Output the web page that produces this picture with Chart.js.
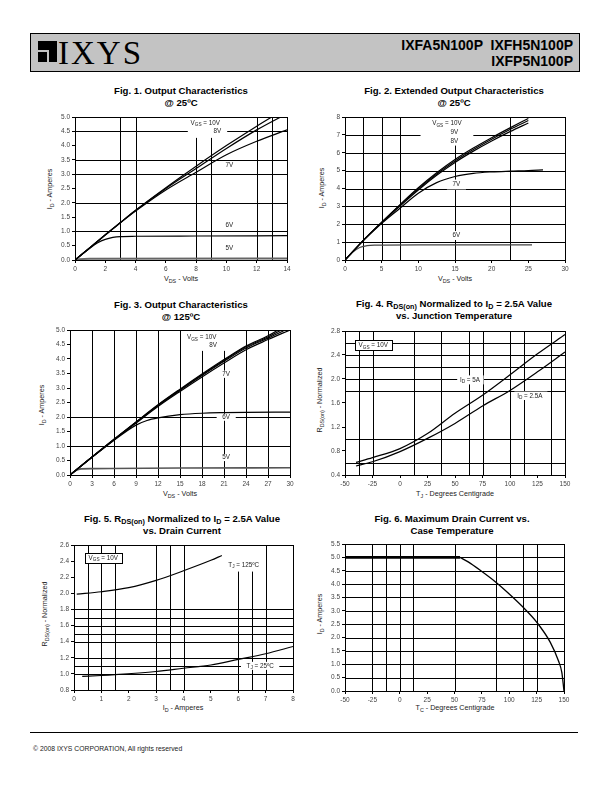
<!DOCTYPE html>
<html>
<head>
<meta charset="utf-8">
<title>IXFA5N100P IXFH5N100P IXFP5N100P</title>
<script src="https://cdn.jsdelivr.net/npm/chart.js@4.4.1/dist/chart.umd.min.js"></script>
<style>
  body { margin: 0; width: 612px; height: 792px; position: relative; background: #fff; overflow: hidden;
         font-family: "Liberation Sans", Arial, sans-serif; color: #000; }
  .hdr { position: absolute; left: 30px; top: 33px; width: 548px; height: 37px; background: #c3c3c3; border: 1px solid #000; }
  .mark { position: absolute; left: 7px; top: 7px; width: 19px; height: 21px; background: #000; }
  .mark i { position: absolute; background: #c3c3c3; }
  .brand { position: absolute; left: 27px; top: 0px; font: 33px "Liberation Serif", "Times New Roman", serif; letter-spacing: 2px; line-height: 38px; }
  .parts { position: absolute; right: 6px; top: 3px; text-align: right; font-weight: bold; font-size: 14px; line-height: 16px; white-space: pre; }
  .tt { position: absolute; width: 320px; margin-left: -160px; text-align: center; font-weight: bold; font-size: 9.6px; line-height: 11.5px; }
  .xt, .yt { position: absolute; width: 200px; margin-left: -100px; margin-top: -5px; height: 10px; line-height: 10px;
             text-align: center; font-size: 7.2px; color: #222; white-space: nowrap; }
  .yt { transform: rotate(-90deg); }
  sub { font-size: 75%; vertical-align: -2px; line-height: 0; }
  .cv { position: absolute; }
  .foot { position: absolute; left: 30px; top: 732px; width: 548px; border-top: 1px solid #000; }
  .copy { position: absolute; left: 33px; top: 745px; font-size: 6.8px; color: #222; }
</style>
</head>
<body>
<div class="hdr">
  <div class="mark"><i style="left:0;top:9px;width:11px;height:2px"></i><i style="left:9px;top:9px;width:2px;height:12px"></i></div>
  <div class="brand">IXYS</div>
  <div class="parts">IXFA5N100P  IXFH5N100P
IXFP5N100P</div>
</div>

<div class="tt" style="left:181px;top:85px">Fig. 1. Output Characteristics<br>@ 25ºC</div>
<div class="tt" style="left:454px;top:85px">Fig. 2. Extended Output Characteristics<br>@ 25ºC</div>
<div class="tt" style="left:181px;top:299px">Fig. 3. Output Characteristics<br>@ 125ºC</div>
<div class="tt" style="left:454px;top:298px">Fig. 4. R<sub>DS(on)</sub> Normalized to I<sub>D</sub> = 2.5A Value<br>vs. Junction Temperature</div>
<div class="tt" style="left:182px;top:513px">Fig. 5. R<sub>DS(on)</sub> Normalized to I<sub>D</sub> = 2.5A Value<br>vs. Drain Current</div>
<div class="tt" style="left:452px;top:513px">Fig. 6. Maximum Drain Current vs.<br>Case Temperature</div>

<div class="xt" style="left:181px;top:279px">V<sub>DS</sub> - Volts</div>
<div class="xt" style="left:455px;top:279px">V<sub>DS</sub> - Volts</div>
<div class="xt" style="left:180px;top:494px">V<sub>DS</sub> - Volts</div>
<div class="xt" style="left:455px;top:494px">T<sub>J</sub> - Degrees Centigrade</div>
<div class="xt" style="left:183px;top:708px">I<sub>D</sub> - Amperes</div>
<div class="xt" style="left:455px;top:708px">T<sub>C</sub> - Degrees Centigrade</div>

<div class="yt" style="left:50px;top:189px">I<sub>D</sub> - Amperes</div>
<div class="yt" style="left:322px;top:188px">I<sub>D</sub> - Amperes</div>
<div class="yt" style="left:42px;top:405px">I<sub>D</sub> - Amperes</div>
<div class="yt" style="left:320px;top:400px">R<sub>DS(on)</sub> - Normalized</div>
<div class="yt" style="left:45px;top:614px">R<sub>DS(on)</sub> - Normalized</div>
<div class="yt" style="left:320px;top:614px">I<sub>D</sub> - Amperes</div>

<div class="foot"></div>
<div class="copy">© 2008 IXYS CORPORATION, All rights reserved</div>

<script>
const FONT = '"Liberation Sans", Arial, sans-serif';

// Fig. 1 - output characteristics @ 25C
const f1Vds = [0, 1, 2, 3, 4, 6, 8, 10, 12, 14];
const f1Vgs10 = [0, 0.44, 0.88, 1.31, 1.74, 2.53, 3.28, 4.0, 4.68, 5.32];
const f1Vgs8 = [0, 0.44, 0.88, 1.31, 1.73, 2.5, 3.2, 3.9, 4.55, 5.12];
const f1Vgs7 = [0, 0.44, 0.87, 1.3, 1.71, 2.45, 3.07, 3.68, 4.15, 4.55];
const f1Vds6 = [0, 1, 1.5, 2, 2.5, 3, 4, 8, 14];
const f1Vgs6 = [0, 0.42, 0.6, 0.72, 0.79, 0.82, 0.83, 0.84, 0.85];
const f1Vds5 = [0, 0.3, 1, 14];
const f1Vgs5 = [0, 0.03, 0.04, 0.05];
const f1XTicks = [0, 2, 4, 6, 8, 10, 12, 14];
const f1YTicks = [0, 0.5, 1, 1.5, 2, 2.5, 3, 3.5, 4, 4.5, 5];
const f1GridX = [3, 4, 8, 9, 12, 13];
const f1GridY = [1, 2, 3, 3.5, 4.5];

// Fig. 2 - extended output characteristics @ 25C
const f2Vds = [0, 2.5, 5, 7.5, 10, 12.5, 15, 17.5, 20, 22.5, 25];
const f2Vgs10 = [0, 1.1, 2.12, 3.1, 4.04, 4.88, 5.62, 6.26, 6.84, 7.39, 7.92];
const f2Vgs9 = [0, 1.1, 2.1, 3.07, 3.98, 4.81, 5.54, 6.18, 6.76, 7.3, 7.8];
const f2Vgs8 = [0, 1.1, 2.08, 3.02, 3.92, 4.74, 5.46, 6.09, 6.66, 7.18, 7.66];
const f2Vds7 = [0, 2.5, 5, 7.5, 10, 12.5, 15, 17.5, 20, 22.5, 25, 27];
const f2Vgs7 = [0, 1.08, 2.05, 2.9, 3.74, 4.33, 4.67, 4.85, 4.93, 4.97, 5.0, 5.04];
const f2Vds6 = [0, 1, 2, 3, 4, 10, 25.5];
const f2Vgs6 = [0, 0.42, 0.7, 0.8, 0.83, 0.85, 0.85];
const f2XTicks = [0, 5, 10, 15, 20, 25, 30];
const f2YTicks = [0, 1, 2, 3, 4, 5, 6, 7, 8];
const f2GridX = [2.5, 5, 7.5, 15, 22.5];
const f2GridY = [1, 2, 3, 4, 5, 6, 7];

// Fig. 3 - output characteristics @ 125C
const f3Vds = [0, 3, 6, 9, 12, 15, 18, 21, 24, 27, 30];
const f3Vgs10 = [0, 0.62, 1.23, 1.83, 2.42, 2.96, 3.48, 3.98, 4.45, 4.8, 5.25];
const f3Vgs9 = [0, 0.62, 1.23, 1.82, 2.41, 2.94, 3.46, 3.95, 4.42, 4.76, 5.16];
const f3Vgs8 = [0, 0.62, 1.22, 1.81, 2.39, 2.92, 3.43, 3.92, 4.38, 4.72, 5.08];
const f3Vgs7 = [0, 0.61, 1.21, 1.79, 2.36, 2.88, 3.38, 3.86, 4.32, 4.67, 5.0];
const f3Vds6 = [0, 3, 6, 9, 10.5, 12, 15, 18, 21, 24, 30];
const f3Vgs6 = [0, 0.61, 1.2, 1.72, 1.88, 1.97, 2.08, 2.13, 2.15, 2.16, 2.17];
const f3Vds5 = [0, 0.8, 1.5, 3, 15, 30];
const f3Vgs5 = [0, 0.15, 0.21, 0.22, 0.24, 0.25];
const f3XTicks = [0, 3, 6, 9, 12, 15, 18, 21, 24, 27, 30];
const f3YTicks = [0, 0.5, 1, 1.5, 2, 2.5, 3, 3.5, 4, 4.5, 5];
const f3GridX = [3, 6, 9, 12, 15, 18, 21, 24, 27];
const f3GridY = [1, 2];

// Fig. 4 - RDS(on) vs junction temperature
const f4Tj = [-40, -25, 0, 25, 50, 75, 100, 125, 150];
const f4Id5 = [0.61, 0.69, 0.84, 1.09, 1.43, 1.73, 2.07, 2.42, 2.74];
const f4Id25 = [0.55, 0.62, 0.79, 1.01, 1.26, 1.55, 1.81, 2.12, 2.45];
const f4XTicks = [-50, -25, 0, 25, 50, 75, 100, 125, 150];
const f4YTicks = [0.4, 0.8, 1.2, 1.6, 2.0, 2.4, 2.8];
const f4GridX = [-37.5, -25, 12.5, 37.5, 62.5, 75, 100, 112.5, 137.5];
const f4GridY = [0.6, 1.0, 1.8, 2.0, 2.2, 2.4, 2.6];

// Fig. 5 - RDS(on) vs drain current
const f5IdHot = [0.1, 1, 2, 3, 4, 5, 5.4];
const f5RHot = [1.99, 2.02, 2.07, 2.16, 2.28, 2.41, 2.47];
const f5IdCold = [0.3, 1, 1.5, 3, 4, 5, 6, 7, 8];
const f5RCold = [0.97, 0.98, 0.99, 1.03, 1.07, 1.11, 1.18, 1.25, 1.34];
const f5XTicks = [0, 1, 2, 3, 4, 5, 6, 7, 8];
const f5YTicks = [0.8, 1.0, 1.2, 1.4, 1.6, 1.8, 2.0, 2.2, 2.4, 2.6];
const f5GridX = [0.5, 1, 1.5, 3, 3.5, 4, 6, 6.5, 7];
const f5GridY = [1.0, 1.1, 1.2, 1.4, 1.5, 1.6, 1.7, 1.8];

// Fig. 6 - maximum drain current vs case temperature
const f6FlatTc = [-50, 55];
const f6FlatId = [5, 5];
const f6Tc = [55, 62.5, 75, 87.5, 100, 112.5, 125, 137.5, 145, 148, 150];
const f6Id = [5, 4.83, 4.47, 4.08, 3.63, 3.14, 2.58, 1.82, 1.12, 0.7, 0];
const f6XTicks = [-50, -25, 0, 25, 50, 75, 100, 125, 150];
const f6YTicks = [0, 0.5, 1, 1.5, 2, 2.5, 3, 3.5, 4, 4.5, 5, 5.5];
const f6GridX = [-25, -12.5, 0, 12.5, 50, 87.5, 112.5, 125];
const f6GridY = [0.5, 1, 1.5, 2, 2.5, 3, 3.5, 4, 4.5, 5];

const pts = (xs, ys) => xs.map((x, i) => ({ x, y: ys[i] }));
const curve = (xs, ys, extra) => Object.assign({
  data: pts(xs, ys), borderColor: "#000", borderWidth: 1.2, pointRadius: 0,
  cubicInterpolationMode: "monotone", fill: false,
}, extra);

// split "V_{GS} = 10V" into normal / subscript runs
function runs(s) {
  const out = []; const re = /_\{([^}]*)\}/g; let last = 0, m;
  while ((m = re.exec(s))) {
    if (m.index > last) out.push([s.slice(last, m.index), false]);
    out.push([m[1], true]); last = re.lastIndex;
  }
  if (last < s.length) out.push([s.slice(last), false]);
  return out;
}
function drawRich(ctx, s, cx, cy, size) {
  const parts = runs(s);
  const f = (sub) => `${sub ? size * 0.75 : size}px ${FONT}`;
  let w = 0;
  parts.forEach(([t, sub]) => { ctx.font = f(sub); w += ctx.measureText(t).width; });
  let px = cx - w / 2;
  ctx.textAlign = "left"; ctx.textBaseline = "middle"; ctx.fillStyle = "#222";
  parts.forEach(([t, sub]) => { ctx.font = f(sub); ctx.fillText(t, px, cy + (sub ? size * 0.3 : 0)); px += ctx.measureText(t).width; });
  return w;
}

// datasheet grid: lines at arbitrary values, white knock-outs behind labels, frame, notes
const sheet = {
  id: "sheet",
  beforeDatasetsDraw(chart, _a, o) {
    const { ctx, chartArea: a, scales: { x, y } } = chart;
    ctx.save();
    ctx.strokeStyle = "#000"; ctx.lineWidth = 1;
    ctx.beginPath();
    (o.gridX || []).forEach((v) => { const p = Math.round(x.getPixelForValue(v)) + 0.5; ctx.moveTo(p, a.top); ctx.lineTo(p, a.bottom); });
    (o.gridY || []).forEach((v) => { const p = Math.round(y.getPixelForValue(v)) + 0.5; ctx.moveTo(a.left, p); ctx.lineTo(a.right, p); });
    ctx.stroke();
    ctx.fillStyle = "#fff";
    (o.masks || []).forEach(([x0, x1, y0, y1]) => {
      const l = x.getPixelForValue(x0), r = x.getPixelForValue(x1);
      const t = y.getPixelForValue(y1), b = y.getPixelForValue(y0);
      ctx.fillRect(l, t, r - l, b - t);
    });
    ctx.strokeRect(Math.round(a.left) + 0.5, Math.round(a.top) + 0.5, Math.round(a.right - a.left), Math.round(a.bottom - a.top));
    ctx.restore();
  },
  afterDatasetsDraw(chart, _a, o) {
    const { ctx, scales: { x, y } } = chart;
    ctx.save();
    (o.notes || []).forEach((n) => {
      const cx = x.getPixelForValue(n.x), cy = y.getPixelForValue(n.y);
      if (n.box) {
        const parts = runs(n.t); let w = 0;
        parts.forEach(([t, sub]) => { ctx.font = `${sub ? 4.7 : 6.3}px ${FONT}`; w += ctx.measureText(t).width; });
        ctx.fillStyle = "#fff"; ctx.strokeStyle = "#000"; ctx.lineWidth = 1;
        const l = Math.round(cx - w / 2 - 4) + 0.5, t = Math.round(cy - 5) + 0.5;
        ctx.fillRect(l, t, Math.round(w + 8), 10);
        ctx.strokeRect(l, t, Math.round(w + 8), 10);
      }
      drawRich(ctx, n.t, cx, cy, 6.3);
    });
    ctx.restore();
  },
};

const panels = [
  {
    box: { L: 75, T: 117, R: 287, B: 260 },
    x: { min: 0, max: 14, ticks: f1XTicks, dec: 0 }, y: { min: 0, max: 5, ticks: f1YTicks, dec: 1 },
    gridX: f1GridX, gridY: f1GridY,
    masks: [[7.45, 10.05, 4.27, 5]],
    notes: [{ x: 8.6, y: 4.78, t: "V_{GS} = 10V" }, { x: 9.4, y: 4.49, t: "8V" }, { x: 10.2, y: 3.33, t: "7V" },
            { x: 10.2, y: 1.21, t: "6V" }, { x: 10.2, y: 0.42, t: "5V" }],
    sets: [curve(f1Vds, f1Vgs10), curve(f1Vds, f1Vgs8), curve(f1Vds, f1Vgs7),
           curve(f1Vds6, f1Vgs6), curve(f1Vds5, f1Vgs5, { borderColor: "#666", borderWidth: 2 })],
  },
  {
    box: { L: 345, T: 117, R: 565, B: 260 },
    x: { min: 0, max: 30, ticks: f2XTicks, dec: 0 }, y: { min: 0, max: 8, ticks: f2YTicks, dec: 0 },
    gridX: f2GridX, gridY: f2GridY,
    masks: [[10.3, 17.5, 6.4, 8], [13.9, 16.5, 3.95, 4.5], [13.9, 16.5, 1.12, 1.62]],
    notes: [{ x: 13.9, y: 7.63, t: "V_{GS} = 10V" }, { x: 14.9, y: 7.13, t: "9V" }, { x: 14.9, y: 6.67, t: "8V" },
            { x: 15.2, y: 4.24, t: "7V" }, { x: 15.2, y: 1.36, t: "6V" }],
    sets: [curve(f2Vds, f2Vgs10), curve(f2Vds, f2Vgs9), curve(f2Vds, f2Vgs8),
           curve(f2Vds7, f2Vgs7), curve(f2Vds6, f2Vgs6, { borderColor: "#444" })],
  },
  {
    box: { L: 70, T: 330, R: 290, B: 475 },
    x: { min: 0, max: 30, ticks: f3XTicks, dec: 0 }, y: { min: 0, max: 5, ticks: f3YTicks, dec: 1 },
    gridX: f3GridX, gridY: f3GridY,
    masks: [[16.2, 23.2, 4.28, 5], [20.2, 22.4, 3.35, 3.6], [20, 22.6, 1.87, 2.11], [20.2, 22.4, 0.48, 0.72]],
    notes: [{ x: 17.95, y: 4.74, t: "V_{GS} = 10V" }, { x: 19.5, y: 4.46, t: "8V" }, { x: 21.3, y: 3.47, t: "7V" },
            { x: 21.3, y: 1.99, t: "6V" }, { x: 21.3, y: 0.6, t: "5V" }],
    sets: [curve(f3Vds, f3Vgs10), curve(f3Vds, f3Vgs9), curve(f3Vds, f3Vgs8), curve(f3Vds, f3Vgs7),
           curve(f3Vds6, f3Vgs6), curve(f3Vds5, f3Vgs5, { borderColor: "#555", borderWidth: 1.6 })],
  },
  {
    box: { L: 345, T: 331, R: 565, B: 475 },
    x: { min: -50, max: 150, ticks: f4XTicks, dec: 0 }, y: { min: 0.4, max: 2.8, ticks: f4YTicks, dec: 1 },
    gridX: f4GridX, gridY: f4GridY,
    masks: [[52, 76, 1.91, 2.06], [104, 134, 1.65, 1.79]],
    notes: [{ x: -24.3, y: 2.56, t: "V_{GS} = 10V", box: true }, { x: 63.6, y: 1.98, t: "I_{D} = 5A" },
            { x: 118, y: 1.72, t: "I_{D} = 2.5A" }],
    sets: [curve(f4Tj, f4Id5), curve(f4Tj, f4Id25)],
  },
  {
    box: { L: 74, T: 545, R: 293, B: 690 },
    x: { min: 0, max: 8, ticks: f5XTicks, dec: 0 }, y: { min: 0.8, max: 2.6, ticks: f5YTicks, dec: 1 },
    gridX: f5GridX, gridY: f5GridY,
    masks: [[5.5, 6.85, 2.27, 2.6], [6.1, 7.5, 1.05, 1.15]],
    notes: [{ x: 1.07, y: 2.44, t: "V_{GS} = 10V", box: true }, { x: 6.2, y: 2.35, t: "T_{J} = 125ºC" },
            { x: 6.8, y: 1.1, t: "T_{J} = 25ºC" }],
    sets: [curve(f5IdHot, f5RHot), curve(f5IdCold, f5RCold)],
  },
  {
    box: { L: 345, T: 544, R: 564, B: 691 },
    x: { min: -50, max: 150, ticks: f6XTicks, dec: 0 }, y: { min: 0, max: 5.5, ticks: f6YTicks, dec: 1 },
    gridX: f6GridX, gridY: f6GridY,
    masks: [], notes: [],
    sets: [curve(f6FlatTc, f6FlatId, { borderWidth: 2.6 }), curve(f6Tc, f6Id, { borderWidth: 1.3 })],
  },
];

const PAD = { l: 34, t: 6, r: 10, b: 18 };

function axis(spec, pos) {
  return {
    type: "linear", position: pos, min: spec.min, max: spec.max,
    afterBuildTicks: (s) => { s.ticks = spec.ticks.map((v) => ({ value: v })); },
    afterFit: (s) => { if (pos === "left") s.width = PAD.l; else s.height = PAD.b; },
    grid: { display: true, drawOnChartArea: false, drawTicks: true, tickLength: 3, color: "#000", lineWidth: 1 },
    border: { display: true, color: "#000", width: 1 },
    ticks: { autoSkip: false, maxRotation: 0, padding: 2, color: "#444", font: { family: FONT, size: 6.5 },
             callback: (v) => Number(v).toFixed(spec.dec) },
  };
}

panels.forEach((p) => {
  const wrap = document.createElement("div");
  wrap.className = "cv";
  wrap.style.left = p.box.L - PAD.l + "px";
  wrap.style.top = p.box.T - PAD.t + "px";
  const cv = document.createElement("canvas");
  cv.width = p.box.R - p.box.L + PAD.l + PAD.r;
  cv.height = p.box.B - p.box.T + PAD.t + PAD.b;
  wrap.appendChild(cv);
  document.body.appendChild(wrap);

  new Chart(cv, {
    type: "line",
    data: { datasets: p.sets },
    options: {
      responsive: false, animation: false, events: [],
      layout: { padding: { left: 0, top: PAD.t, right: PAD.r, bottom: 0 } },
      plugins: {
        legend: { display: false }, tooltip: { enabled: false },
        sheet: { gridX: p.gridX, gridY: p.gridY, masks: p.masks, notes: p.notes },
      },
      scales: { x: axis(p.x, "bottom"), y: axis(p.y, "left") },
    },
    plugins: [sheet],
  });
});
</script>
</body>
</html>
